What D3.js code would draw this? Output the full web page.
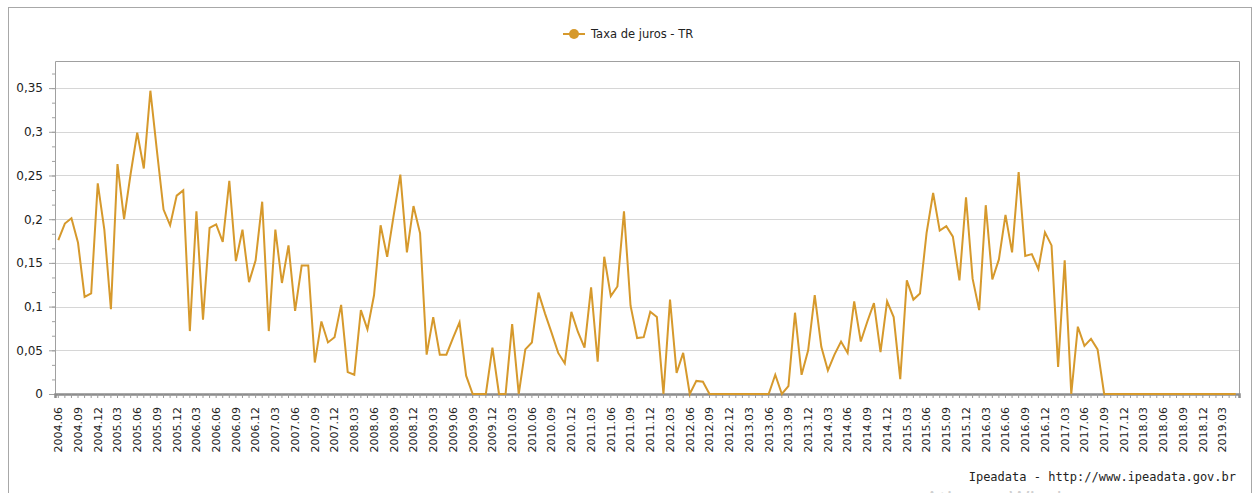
<!DOCTYPE html>
<html>
<head>
<meta charset="utf-8">
<script src="https://cdn.jsdelivr.net/npm/d3@7"></script>
<style>
  body { margin: 0; background: #fff; }
  svg { display: block; }
</style>
</head>
<body>
<div id="chart"></div>
<script>
// serie mensal, 2004.06 a 2019.05
const START_YEAR = 2004, START_MONTH = 6, N_MONTHS = 180;

const seriesName = "Taxa de juros - TR";

const values = [
  0.176, 0.195, 0.201, 0.173, 0.111, 0.115, 0.241, 0.188, 0.097, 0.263,
  0.200, 0.252, 0.299, 0.258, 0.347, 0.278, 0.211, 0.193, 0.227, 0.233,
  0.072, 0.209, 0.085, 0.190, 0.194, 0.174, 0.244, 0.152, 0.188, 0.128,
  0.153, 0.220, 0.072, 0.188, 0.127, 0.170, 0.095, 0.147, 0.147, 0.036,
  0.083, 0.059, 0.065, 0.102, 0.025, 0.022, 0.096, 0.074, 0.113, 0.193,
  0.157, 0.205, 0.251, 0.162, 0.215, 0.184, 0.045, 0.088, 0.045, 0.045,
  0.064, 0.082, 0.021, 0, 0, 0, 0.053, 0, 0, 0.080,
  0, 0.051, 0.059, 0.116, 0.092, 0.070, 0.047, 0.035, 0.094, 0.071,
  0.053, 0.122, 0.037, 0.157, 0.112, 0.123, 0.209, 0.101, 0.064, 0.065,
  0.094, 0.088, 0, 0.108, 0.024, 0.047, 0, 0.015, 0.014, 0,
  0, 0, 0, 0, 0, 0, 0, 0, 0, 0.022,
  0, 0.009, 0.093, 0.022, 0.050, 0.113, 0.054, 0.027, 0.045, 0.060,
  0.047, 0.106, 0.060, 0.083, 0.104, 0.048, 0.106, 0.088, 0.017, 0.130,
  0.108, 0.115, 0.184, 0.230, 0.187, 0.192, 0.180, 0.130, 0.225, 0.132,
  0.096, 0.216, 0.131, 0.154, 0.205, 0.162, 0.254, 0.158, 0.160, 0.143,
  0.185, 0.170, 0.031, 0.153, 0, 0.077, 0.055, 0.063, 0.051, 0,
  0, 0, 0, 0, 0, 0, 0, 0, 0, 0,
  0, 0, 0, 0, 0, 0, 0, 0, 0, 0
];

const yTicks = [0, 0.05, 0.1, 0.15, 0.2, 0.25, 0.3, 0.35];

// month labels "yyyy.mm"
const months = [];
for (let i = 0; i < N_MONTHS; i++) {
  const m = START_MONTH - 1 + i;
  const yy = START_YEAR + Math.floor(m / 12);
  const mm = (m % 12) + 1;
  months.push(yy + "." + (mm < 10 ? "0" + mm : mm));
}

const W = 1255, H = 493;
const plot = {left: 55, top: 61, right: 1239, bottom: 394};
const lineColor = "#d6992c";

const svg = d3.select("#chart").append("svg")
  .attr("width", W).attr("height", H);

// outer frame
svg.append("rect")
  .attr("x", 8.5).attr("y", 7.5)
  .attr("width", 1243).attr("height", 520)
  .attr("fill", "none").attr("stroke", "#a8a8a8");

const x = d3.scaleBand().domain(months).range([plot.left, plot.right]);
const y = d3.scaleLinear().domain([0, 0.381]).range([plot.bottom, plot.top]);
const cx = d => x(d) + x.bandwidth() / 2;

const ptBR = d3.formatLocale({decimal: ",", thousands: ".", grouping: [3], currency: ["R$", ""]});
const fmt = ptBR.format("~g");

// grid
svg.append("g").selectAll("line")
  .data(yTicks.filter(d => d > 0))
  .join("line")
  .attr("x1", plot.left).attr("x2", plot.right)
  .attr("y1", d => Math.round(y(d)) + 0.5).attr("y2", d => Math.round(y(d)) + 0.5)
  .attr("stroke", "#d6d6d6").attr("stroke-width", 1.2);

// plot frame (left, top, right)
svg.append("path")
  .attr("d", `M${plot.left + 0.5},${plot.bottom} V${plot.top + 0.5} H${plot.right + 0.5} V${plot.bottom}`)
  .attr("fill", "none").attr("stroke", "#a0a0a0");

// y axis minor ticks
const yMinor = svg.append("g")
  .attr("transform", `translate(${plot.left},0)`)
  .call(d3.axisLeft(y).tickValues(d3.range(0, 0.381, 0.05 / 3)).tickSize(3).tickFormat(""));
yMinor.select(".domain").remove();
yMinor.selectAll("line").attr("stroke", "#a0a0a0");

// y axis major
const yAxis = svg.append("g")
  .attr("transform", `translate(${plot.left},0)`)
  .call(d3.axisLeft(y).tickValues(yTicks).tickSize(6).tickPadding(6).tickFormat(fmt));
yAxis.select(".domain").remove();
yAxis.selectAll("line").attr("stroke", "#a0a0a0");
yAxis.selectAll("text")
  .attr("fill", "#222")
  .style("font-family", "DejaVu Sans, sans-serif")
  .style("font-size", "12px");

// x axis
const xAxis = svg.append("g")
  .attr("transform", `translate(0,${plot.bottom})`)
  .call(d3.axisBottom(x).tickSize(4)
    .tickFormat((d, i) => i % 3 === 0 ? d : ""));
xAxis.select(".domain")
  .attr("stroke", "#8c8c8c").attr("stroke-width", 2.5);
xAxis.selectAll(".tick line").attr("stroke", "#9a9a9a");
xAxis.selectAll("text")
  .attr("transform", "rotate(-90)")
  .attr("x", -13).attr("y", 0).attr("dy", "0.35em")
  .attr("text-anchor", "end")
  .attr("fill", "#222")
  .style("font-family", "DejaVu Sans, sans-serif")
  .style("font-size", "11px");

// series line
const line = d3.line()
  .x((d, i) => cx(months[i]))
  .y(d => y(d));

svg.append("path")
  .datum(values)
  .attr("fill", "none")
  .attr("stroke", lineColor)
  .attr("stroke-width", 2)
  .attr("stroke-linejoin", "miter")
  .attr("d", line);

// legend
const lg = svg.append("g").attr("transform", "translate(563,34)");
lg.append("line")
  .attr("x1", 0).attr("x2", 22)
  .attr("stroke", lineColor).attr("stroke-width", 2);
lg.append("circle")
  .attr("cx", 11).attr("cy", 0).attr("r", 5)
  .attr("fill", lineColor);
lg.append("text")
  .attr("x", 28).attr("y", 0).attr("dy", "0.35em")
  .attr("fill", "#222")
  .style("font-family", "DejaVu Sans, sans-serif")
  .style("font-size", "11.5px")
  .text(seriesName);

// source
svg.append("text")
  .attr("x", 1236).attr("y", 481)
  .attr("text-anchor", "end")
  .attr("fill", "#222")
  .style("font-family", "DejaVu Sans Mono, monospace")
  .style("font-size", "12px")
  .text("Ipeadata - http://www.ipeadata.gov.br");

// watermark remnant at the very bottom
svg.append("text")
  .attr("x", 925).attr("y", 507)
  .attr("fill", "#d0d0d0")
  .style("font-family", "Open Sans, sans-serif")
  .style("font-size", "22px")
  .text("Ativar o Windows");
</script>
</body>
</html>
